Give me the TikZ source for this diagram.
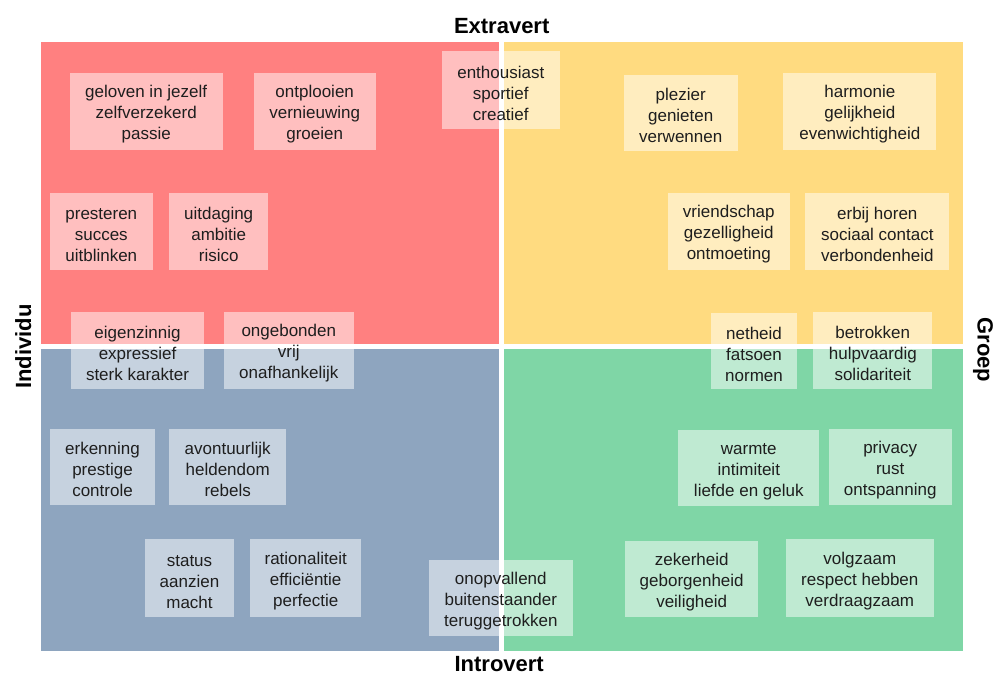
\documentclass[tikz,border=0pt]{standalone}
\usepackage{fontspec}
\setmainfont{Liberation Sans}
\definecolor{qred}{HTML}{FF8080}
\definecolor{qyellow}{HTML}{FFDB80}
\definecolor{qblue}{HTML}{8EA5BF}
\definecolor{qgreen}{HTML}{7FD6A6}
\definecolor{txt}{HTML}{1E1E1E}
\newcommand{\tstrut}{\rule{0pt}{18pt}}
\begin{document}
\begin{tikzpicture}[x=1pt,y=-1pt,
  val/.style={fill=white, fill opacity=0.5, text opacity=1, draw=none,
    inner sep=0pt, outer sep=0pt, minimum height=76.5pt, align=center,
    font=\fontsize{17}{21}\selectfont, text=txt},
  axislabel/.style={font=\fontsize{22}{26}\selectfont\bfseries, text=black, inner sep=0pt}]
\useasboundingbox (0,0) rectangle (995,675);
% quadrants
\fill[qred]    (41,42)   rectangle (499,344);
\fill[qyellow] (504,42)  rectangle (963,344);
\fill[qblue]   (41,349)  rectangle (499,651);
\fill[qgreen]  (504,349) rectangle (963,651);
% value boxes
\node[val, minimum width=153pt] (geloven) at (146.2,111.5) {\tstrut geloven in jezelf\\zelfverzekerd\\passie};
\node[val, minimum width=122pt] (ontplooien) at (314.7,111.5) {\tstrut ontplooien\\vernieuwing\\groeien};
\node[val, minimum width=117.7pt, minimum height=77.7pt] (enthousiast) at (500.8,90.2) {\tstrut enthousiast\\sportief\\creatief};
\node[val, minimum width=102.7pt] (presteren) at (101.3,231.3) {\tstrut presteren\\succes\\uitblinken};
\node[val, minimum width=98.7pt] (uitdaging) at (218.7,231.3) {\tstrut uitdaging\\ambitie\\risico};
\node[val, minimum width=133.7pt, minimum height=77.6pt] (eigenzinnig) at (137.5,350.5) {\tstrut eigenzinnig\\expressief\\sterk karakter};
\node[val, minimum width=129.7pt, minimum height=77.6pt] (ongebonden) at (288.8,350.5) {\tstrut ongebonden\\vrij\\onafhankelijk};
\node[val, minimum width=114pt] (plezier) at (680.7,112.8) {\tstrut plezier\\genieten\\verwennen};
\node[val, minimum width=153pt] (harmonie) at (859.8,111.5) {\tstrut harmonie\\gelijkheid\\evenwichtigheid};
\node[val, minimum width=121.7pt] (vriendschap) at (728.8,231.5) {\tstrut vriendschap\\gezelligheid\\ontmoeting};
\node[val, minimum width=144pt] (erbij) at (877.3,231.5) {\tstrut erbij horen\\sociaal contact\\verbondenheid};
\node[val, minimum width=86.7pt] (netheid) at (754,351.2) {\tstrut netheid\\fatsoen\\normen};
\node[val, minimum width=119pt, minimum height=77.6pt] (betrokken) at (872.8,350.5) {\tstrut betrokken\\hulpvaardig\\solidariteit};
\node[val, minimum width=105pt] (erkenning) at (102.5,466.8) {\tstrut erkenning\\prestige\\controle};
\node[val, minimum width=116.7pt] (avontuurlijk) at (227.7,466.8) {\tstrut avontuurlijk\\heldendom\\rebels};
\node[val, minimum width=89pt, minimum height=77.7pt] (status) at (189.5,578.2) {\tstrut status\\aanzien\\macht};
\node[val, minimum width=111.3pt, minimum height=77.7pt] (rationaliteit) at (305.7,578.2) {\tstrut rationaliteit\\efficiëntie\\perfectie};
\node[val, minimum width=143.7pt] (onopvallend) at (500.8,598.2) {\tstrut onopvallend\\buitenstaander\\teruggetrokken};
\node[val, minimum width=141pt] (warmte) at (748.8,468) {\tstrut warmte\\intimiteit\\liefde en geluk};
\node[val, minimum width=123pt] (privacy) at (890.2,466.8) {\tstrut privacy\\rust\\ontspanning};
\node[val, minimum width=133.3pt] (zekerheid) at (691.7,578.8) {\tstrut zekerheid\\geborgenheid\\veiligheid};
\node[val, minimum width=147.7pt, minimum height=77.7pt] (volgzaam) at (859.8,578.2) {\tstrut volgzaam\\respect hebben\\verdraagzaam};
% axis labels
\node[axislabel, anchor=base] (extravert) at (501.7,33) {Extravert};
\node[axislabel, anchor=base] (introvert) at (499.2,671.5) {Introvert};
\node[axislabel, anchor=base, rotate=90] (individu) at (31,346.5) {Individu};
\node[axislabel, anchor=base, rotate=-90] (groep) at (977.5,350) {Groep};
\end{tikzpicture}
\end{document}
